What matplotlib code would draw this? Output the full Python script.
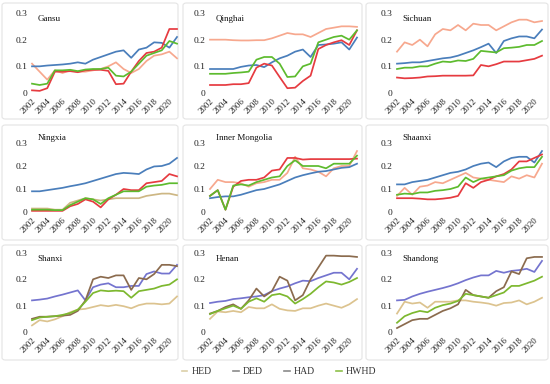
import numpy as np
import matplotlib
matplotlib.use("Agg")
import matplotlib.pyplot as plt
from matplotlib.patches import FancyBboxPatch
from matplotlib.lines import Line2D

years = list(range(2002, 2022))
tick_years = list(range(2002, 2021, 2))

# ---- data ----
gansu_hed = [0.11, 0.08, 0.05, 0.085, 0.075, 0.085, 0.08, 0.08, 0.085, 0.09, 0.10, 0.115, 0.09, 0.075, 0.09, 0.12, 0.14, 0.145, 0.155, 0.13]
gansu_ded = [0.10, 0.10, 0.103, 0.105, 0.107, 0.11, 0.115, 0.11, 0.125, 0.135, 0.145, 0.155, 0.16, 0.132, 0.163, 0.17, 0.19, 0.188, 0.17, 0.21]
gansu_had = [0.01, 0.008, 0.018, 0.08, 0.08, 0.082, 0.078, 0.085, 0.087, 0.087, 0.083, 0.033, 0.035, 0.08, 0.12, 0.15, 0.155, 0.17, 0.24, 0.24]
gansu_hwhd = [0.035, 0.03, 0.035, 0.085, 0.085, 0.087, 0.082, 0.088, 0.09, 0.09, 0.095, 0.065, 0.062, 0.08, 0.11, 0.14, 0.15, 0.16, 0.195, 0.185]

qinghai_hed = [0.20, 0.20, 0.20, 0.198, 0.197, 0.197, 0.198, 0.198, 0.205, 0.215, 0.225, 0.22, 0.22, 0.21, 0.225, 0.24, 0.245, 0.25, 0.25, 0.248]
qinghai_ded = [0.09, 0.09, 0.09, 0.09, 0.098, 0.103, 0.105, 0.097, 0.115, 0.13, 0.14, 0.155, 0.163, 0.135, 0.18, 0.182, 0.185, 0.19, 0.163, 0.208]
qinghai_had = [0.03, 0.03, 0.03, 0.033, 0.033, 0.037, 0.095, 0.11, 0.103, 0.06, 0.018, 0.02, 0.045, 0.065, 0.165, 0.18, 0.19, 0.198, 0.18, 0.235]
qinghai_hwhd = [0.072, 0.072, 0.072, 0.075, 0.077, 0.08, 0.125, 0.135, 0.135, 0.11, 0.06, 0.062, 0.10, 0.11, 0.19, 0.2, 0.21, 0.215, 0.2, 0.235]

sichuan_hed = [0.155, 0.19, 0.18, 0.2, 0.175, 0.22, 0.24, 0.235, 0.255, 0.235, 0.26, 0.255, 0.255, 0.235, 0.25, 0.265, 0.275, 0.275, 0.265, 0.27]
sichuan_ded = [0.11, 0.112, 0.115, 0.115, 0.12, 0.125, 0.13, 0.133, 0.14, 0.15, 0.16, 0.172, 0.185, 0.15, 0.195, 0.205, 0.212, 0.212, 0.205, 0.238]
sichuan_had = [0.058, 0.055, 0.056, 0.058, 0.062, 0.063, 0.065, 0.065, 0.065, 0.065, 0.066, 0.105, 0.1, 0.108, 0.118, 0.118, 0.118, 0.123, 0.128, 0.14]
sichuan_hwhd = [0.09, 0.095, 0.095, 0.1, 0.1, 0.11, 0.118, 0.116, 0.122, 0.12, 0.128, 0.158, 0.155, 0.152, 0.168, 0.17, 0.173, 0.18, 0.18, 0.195]

ningxia_hed = [0.015, 0.015, 0.015, 0.01, 0.01, 0.04, 0.05, 0.06, 0.055, 0.05, 0.055, 0.06, 0.06, 0.06, 0.06, 0.07, 0.075, 0.08, 0.08, 0.073]
ningxia_ded = [0.09, 0.09, 0.095, 0.1, 0.105, 0.112, 0.118, 0.125, 0.135, 0.145, 0.155, 0.165, 0.17, 0.168, 0.165, 0.185, 0.198, 0.2, 0.21, 0.235]
ningxia_had = [0.005, 0.005, 0.005, 0.005, 0.005, 0.025, 0.035, 0.055, 0.045, 0.02, 0.055, 0.075, 0.1, 0.095, 0.095, 0.125, 0.13, 0.135, 0.165, 0.155]
ningxia_hwhd = [0.01, 0.01, 0.01, 0.008, 0.008, 0.03, 0.045, 0.06, 0.055, 0.035, 0.06, 0.075, 0.09, 0.09, 0.09, 0.11, 0.115, 0.118, 0.125, 0.125]

mongolia_hed = [0.1, 0.14, 0.13, 0.13, 0.125, 0.11, 0.125, 0.13, 0.14, 0.14, 0.17, 0.24, 0.19, 0.185, 0.175, 0.155, 0.19, 0.2, 0.2, 0.265]
mongolia_ded = [0.06, 0.065, 0.068, 0.068, 0.075, 0.085, 0.095, 0.1, 0.11, 0.12, 0.135, 0.15, 0.16, 0.168, 0.175, 0.178, 0.185, 0.192, 0.195, 0.21]
mongolia_had = [0.07, 0.095, 0.01, 0.11, 0.135, 0.14, 0.14, 0.15, 0.18, 0.185, 0.235, 0.235, 0.228, 0.23, 0.23, 0.23, 0.23, 0.23, 0.23, 0.232]
mongolia_hwhd = [0.07, 0.095, 0.01, 0.115, 0.12, 0.115, 0.13, 0.14, 0.15, 0.155, 0.2, 0.225, 0.2, 0.2, 0.2, 0.19, 0.21, 0.21, 0.21, 0.245]

shaanxi_hed = [0.07, 0.105, 0.075, 0.11, 0.115, 0.13, 0.125, 0.14, 0.155, 0.17, 0.15, 0.145, 0.14, 0.135, 0.13, 0.155, 0.145, 0.16, 0.15, 0.21]
shaanxi_ded = [0.12, 0.12, 0.13, 0.135, 0.14, 0.15, 0.16, 0.17, 0.175, 0.185, 0.2, 0.21, 0.215, 0.195, 0.22, 0.235, 0.24, 0.24, 0.215, 0.265]
shaanxi_had = [0.06, 0.06, 0.06, 0.058, 0.055, 0.055, 0.058, 0.062, 0.07, 0.125, 0.105, 0.13, 0.14, 0.155, 0.165, 0.185, 0.22, 0.22, 0.235, 0.25]
shaanxi_hwhd = [0.075, 0.08, 0.078, 0.085, 0.085, 0.092, 0.095, 0.1, 0.11, 0.15, 0.13, 0.145, 0.15, 0.155, 0.16, 0.18, 0.19, 0.195, 0.195, 0.24]

shanxi_hed = [0.025, 0.045, 0.04, 0.048, 0.06, 0.075, 0.085, 0.088, 0.095, 0.102, 0.098, 0.103, 0.098, 0.09, 0.102, 0.108, 0.108, 0.105, 0.108, 0.135]
shanxi_ded = [0.12, 0.123, 0.127, 0.135, 0.142, 0.15, 0.158, 0.12, 0.17, 0.18, 0.185, 0.17, 0.17, 0.175, 0.175, 0.22, 0.23, 0.222, 0.222, 0.255]
shanxi_had = [0.05, 0.058, 0.058, 0.06, 0.062, 0.065, 0.08, 0.12, 0.2, 0.21, 0.205, 0.215, 0.215, 0.16, 0.205, 0.2, 0.22, 0.255, 0.255, 0.25]
shanxi_hwhd = [0.045, 0.055, 0.058, 0.06, 0.065, 0.072, 0.085, 0.115, 0.148, 0.158, 0.155, 0.157, 0.155, 0.13, 0.155, 0.16, 0.165, 0.175, 0.18, 0.2]

henan_hed = [0.05, 0.078, 0.075, 0.08, 0.075, 0.095, 0.09, 0.09, 0.105, 0.088, 0.082, 0.08, 0.09, 0.09, 0.1, 0.108, 0.1, 0.092, 0.105, 0.125]
henan_ded = [0.11, 0.115, 0.118, 0.125, 0.128, 0.132, 0.135, 0.14, 0.155, 0.165, 0.173, 0.185, 0.195, 0.193, 0.205, 0.215, 0.225, 0.225, 0.2, 0.24]
henan_had = [0.07, 0.08, 0.095, 0.105, 0.088, 0.12, 0.165, 0.135, 0.155, 0.21, 0.195, 0.12, 0.14, 0.2, 0.245, 0.29, 0.29, 0.288, 0.288, 0.285]
henan_hwhd = [0.068, 0.08, 0.09, 0.1, 0.088, 0.115, 0.128, 0.115, 0.14, 0.145, 0.135, 0.108, 0.125, 0.145, 0.17, 0.192, 0.188, 0.18, 0.19, 0.205]

shandong_hed = [0.07, 0.115, 0.108, 0.112, 0.092, 0.115, 0.115, 0.115, 0.12, 0.12, 0.115, 0.112, 0.108, 0.1, 0.11, 0.112, 0.12, 0.105, 0.115, 0.13]
shandong_ded = [0.12, 0.122, 0.135, 0.145, 0.153, 0.16, 0.167, 0.175, 0.185, 0.197, 0.207, 0.215, 0.215, 0.232, 0.225, 0.232, 0.235, 0.24, 0.228, 0.27]
shandong_had = [0.015, 0.03, 0.045, 0.05, 0.05, 0.065, 0.08, 0.09, 0.105, 0.16, 0.14, 0.135, 0.13, 0.155, 0.17, 0.23, 0.22, 0.28, 0.285, 0.285]
shandong_hwhd = [0.035, 0.06, 0.072, 0.08, 0.075, 0.092, 0.102, 0.108, 0.118, 0.145, 0.14, 0.135, 0.13, 0.14, 0.15, 0.175, 0.175, 0.185, 0.195, 0.21]

provinces = [
    ("Gansu", gansu_hed, gansu_ded, gansu_had, gansu_hwhd),
    ("Qinghai", qinghai_hed, qinghai_ded, qinghai_had, qinghai_hwhd),
    ("Sichuan", sichuan_hed, sichuan_ded, sichuan_had, sichuan_hwhd),
    ("Ningxia", ningxia_hed, ningxia_ded, ningxia_had, ningxia_hwhd),
    ("Inner Mongolia", mongolia_hed, mongolia_ded, mongolia_had, mongolia_hwhd),
    ("Shaanxi", shaanxi_hed, shaanxi_ded, shaanxi_had, shaanxi_hwhd),
    ("Shanxi", shanxi_hed, shanxi_ded, shanxi_had, shanxi_hwhd),
    ("Henan", henan_hed, henan_ded, henan_had, henan_hwhd),
    ("Shandong", shandong_hed, shandong_ded, shandong_had, shandong_hwhd),
]

# colours per row: HED, DED, HAD, HWHD
row_colors = [
    ["#F7A88E", "#4A7EBB", "#E63B40", "#5DBB2E"],
    ["#F7A88E", "#4A7EBB", "#E63B40", "#5DBB2E"],
    ["#DCC38F", "#7474CF", "#8B6B4E", "#7DB82F"],
]
ningxia_hed_color = "#CDB784"

plt.rcParams["font.family"] = ["Liberation Serif", "DejaVu Serif"]

W, H = 550, 384
fig = plt.figure(figsize=(W / 100, H / 100), dpi=100)

# panel layout in pixels
col_left = [32, 210, 397]
col_width = [145, 147, 145]
row_top = [13, 131.5, 253]       # pixel y of ylim top
row_bottom = [93, 212, 332]      # pixel y of 0
row_ymax = [0.3, 0.35, 0.3]
box_x = [(2, 178), (183, 362), (366, 548)]
box_y = [(3, 119), (125, 240), (245, 360)]

# panel frames
for r in range(3):
    for c in range(3):
        x0, x1 = box_x[c]
        y0, y1 = box_y[r]
        fig.patches.append(FancyBboxPatch(
            (x0 / W, 1 - y1 / H), (x1 - x0) / W, (y1 - y0) / H,
            boxstyle="round,pad=0,rounding_size=0.006",
            transform=fig.transFigure, facecolor="white",
            edgecolor="#E4E4E4", linewidth=0.8, zorder=-5))

for i, (name, hed, ded, had, hwhd) in enumerate(provinces):
    r, c = divmod(i, 3)
    left = col_left[c] / W
    bottom = 1 - row_bottom[r] / H
    height = (row_bottom[r] - row_top[r]) / H
    ax = fig.add_axes([left, bottom, col_width[c] / W, height])
    ax.set_zorder(2)
    ax.patch.set_alpha(0)
    cols = list(row_colors[r])
    if name == "Ningxia":
        cols[0] = ningxia_hed_color
    for series, col in zip([hed, ded, had, hwhd], cols):
        ax.plot(years, series, color=col, lw=1.25, clip_on=False)
    ax.set_xlim(2002, 2021)
    ax.set_ylim(0, row_ymax[r])
    ax.set_yticks([0, 0.1, 0.2, 0.3])
    ax.set_yticklabels(["0", "0.1", "0.2", "0.3"], fontsize=6.8, color="#222222")
    ax.set_xticks(tick_years)
    ax.set_xticklabels([str(y) for y in tick_years], rotation=45,
                       fontsize=6.5, color="#222222", ha="right",
                       rotation_mode="anchor")
    ax.tick_params(length=0, pad=3)
    for s in ax.spines.values():
        s.set_visible(False)
    ax.text(0.04, 0.97, name, transform=ax.transAxes, fontsize=6.5,
            va="top", ha="left", color="#111111")

handles = [Line2D([0], [0], color=col, lw=1.2)
           for col in ["#DCCFA8", "#8A8A8A", "#8A8A8A", "#8DC04A"]]
fig.legend(handles, ["HED", "DED", "HAD", "HWHD"], loc="center",
           bbox_to_anchor=(279 / W, 1 - 372 / H), ncol=4, frameon=False,
           fontsize=7, handlelength=0.6, handletextpad=0.4,
           columnspacing=2.2, labelcolor="#333333")

fig.savefig("out.png", dpi=100)
